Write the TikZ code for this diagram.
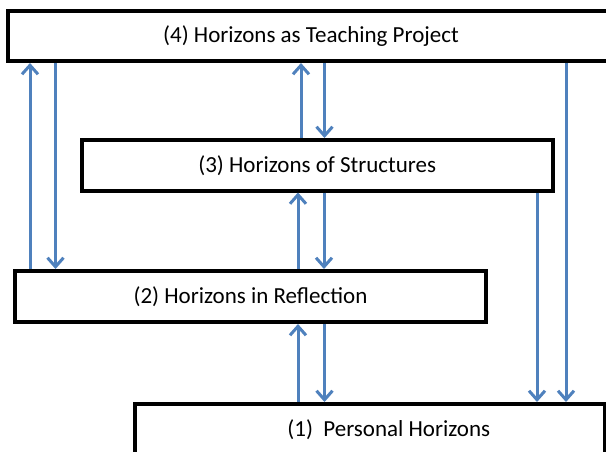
\documentclass[tikz,border=0pt]{standalone}
\usepackage{fontspec}
\setmainfont{Carlito}
\usetikzlibrary{arrows.meta}
\definecolor{arrblue}{RGB}{79,129,189}
\begin{document}
\begin{tikzpicture}[x=1pt,y=-1pt,
  hbox/.style={draw=black,line width=4pt,fill=white,inner sep=0pt,
    font=\fontsize{23}{27}\selectfont},
  arr/.style={draw=arrblue,line width=3pt,
    -{Straight Barb[length=9pt,width=16pt,line width=3pt]}}]
\useasboundingbox (0,0) rectangle (606,451);
\clip (0,0) rectangle (606,451);
\fill[white] (0,0) rectangle (606,451);
\node[hbox,minimum width=606pt,minimum height=50pt] (b4) at (311,36) {(4) Horizons as Teaching Project};
\node[hbox,minimum width=470.5pt,minimum height=50.5pt] (b3) at (317.25,165.25) {(3) Horizons of Structures};
\node[hbox,minimum width=471pt,minimum height=51pt] (b2) at (250.5,296.5) {(2) Horizons in Reflection};
\node[hbox,minimum width=469.5pt,minimum height=51pt,
  label={[font=\fontsize{23}{27}\selectfont,xshift=19pt]center:(1)~~Personal Horizons}] (b1) at (369.75,429.5) {};
% 2 <-> 4
\draw[arr] ([xshift=17pt]b2.north west) -- ([xshift=17pt]b2.north west |- b4.south);
\draw[arr] ([xshift=42.5pt]b2.north west |- b4.south) -- ([xshift=42.5pt]b2.north west);
% 3 <-> 4
\draw[arr] ([xshift=221pt]b3.north west) -- ([xshift=221pt]b3.north west |- b4.south);
\draw[arr] ([xshift=244.5pt]b3.north west |- b4.south) -- ([xshift=244.5pt]b3.north west);
% 2 <-> 3
\draw[arr] ([xshift=285pt]b2.north west) -- ([xshift=285pt]b2.north west |- b3.south);
\draw[arr] ([xshift=311pt]b2.north west |- b3.south) -- ([xshift=311pt]b2.north west);
% 1 <-> 2
\draw[arr] ([xshift=165pt]b1.north west) -- ([xshift=165pt]b1.north west |- b2.south);
\draw[arr] ([xshift=191.5pt]b1.north west |- b2.south) -- ([xshift=191.5pt]b1.north west);
% 3 -> 1, 4 -> 1
\draw[arr] ([xshift=457pt]b3.south west) -- ([xshift=457pt]b3.south west |- b1.north);
\draw[arr] ([xshift=433pt]b1.north west |- b4.south) -- ([xshift=433pt]b1.north west);
\end{tikzpicture}
\end{document}
